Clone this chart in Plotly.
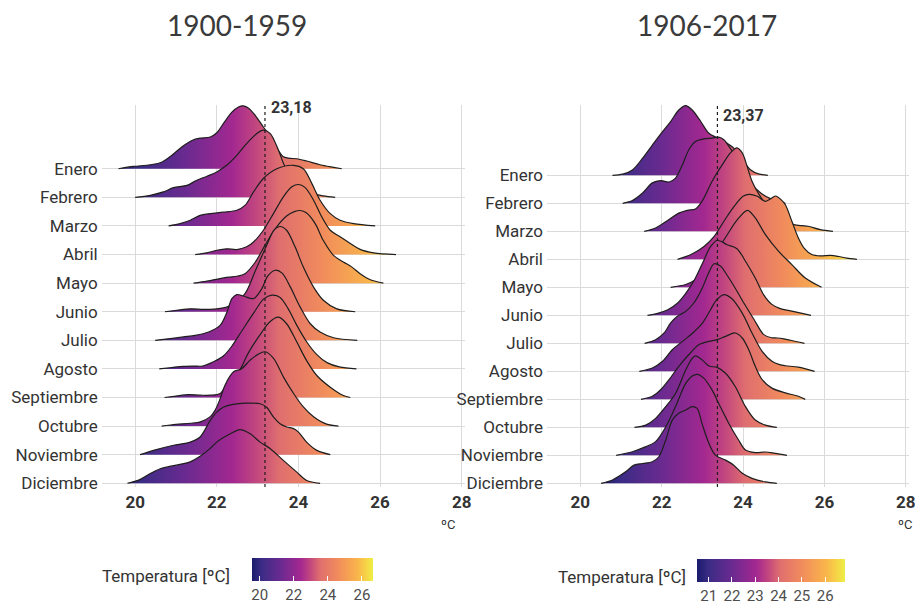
import plotly.graph_objects as go

# ---------------- data ----------------
months = ["Enero", "Febrero", "Marzo", "Abril", "Mayo", "Junio", "Julio",
          "Agosto", "Septiembre", "Octubre", "Noviembre", "Diciembre"]
panel_titles = ["1900-1959", "1906-2017"]
medians = [23.18, 23.37]
median_labels = ["23,18", "23,37"]
x_ticks = [20, 22, 24, 26, 28]
cbar_ranges = [[19.55, 26.65], [20.5, 26.85]]
cbar_ticks = [[20, 22, 24, 26], [21, 22, 23, 24, 25, 26]]

# temperatures (ºC) and ridge heights (in row units), 1900-1959
temp_a = [
    [19.59, 19.96, 20.37, 20.65, 20.9, 21.14, 21.39, 21.59, 21.84, 22.0, 22.16, 22.37, 22.53, 22.65, 22.78, 22.94, 23.14, 23.35, 23.51, 23.62, 23.76, 23.96, 24.2, 24.53, 24.86, 25.06],
    [20.0, 20.37, 20.69, 20.94, 21.27, 21.51, 21.76, 22.0, 22.24, 22.49, 22.73, 22.98, 23.14, 23.31, 23.51, 23.67, 23.88, 24.12, 24.37, 24.61, 24.9],
    [20.82, 21.1, 21.35, 21.59, 21.84, 22.16, 22.49, 22.69, 22.9, 23.14, 23.47, 23.88, 24.12, 24.33, 24.53, 24.78, 25.02, 25.35, 25.88],
    [21.47, 21.76, 22.0, 22.24, 22.49, 22.73, 22.9, 23.14, 23.39, 23.63, 23.84, 24.0, 24.16, 24.37, 24.57, 24.78, 25.02, 25.27, 25.51, 25.84, 26.39],
    [21.43, 21.76, 22.08, 22.29, 22.49, 22.69, 22.94, 23.18, 23.43, 23.71, 23.9, 24.04, 24.2, 24.41, 24.61, 24.86, 25.1, 25.31, 25.51, 25.76, 26.08],
    [20.73, 21.02, 21.35, 21.67, 21.92, 22.24, 22.47, 22.69, 22.95, 23.22, 23.4, 23.55, 23.71, 23.92, 24.12, 24.37, 24.61, 24.94, 25.39],
    [20.49, 20.86, 21.18, 21.47, 21.8, 22.08, 22.25, 22.37, 22.49, 22.65, 22.9, 23.1, 23.25, 23.43, 23.6, 23.8, 24.04, 24.29, 24.53, 24.86, 25.44],
    [20.59, 20.9, 21.18, 21.45, 21.65, 21.92, 22.16, 22.37, 22.6, 22.9, 23.15, 23.35, 23.55, 23.75, 23.95, 24.2, 24.45, 24.7, 25.0, 25.42],
    [20.72, 21.0, 21.3, 21.6, 21.85, 22.08, 22.25, 22.41, 22.57, 22.78, 23.1, 23.3, 23.51, 23.71, 23.96, 24.2, 24.45, 24.78, 25.1, 25.27],
    [20.65, 21.0, 21.35, 21.6, 21.84, 21.96, 22.08, 22.2, 22.41, 22.6, 22.82, 23.0, 23.18, 23.39, 23.63, 23.88, 24.12, 24.37, 24.69, 24.98],
    [20.12, 20.45, 20.94, 21.35, 21.59, 21.84, 22.0, 22.16, 22.4, 22.7, 23.06, 23.22, 23.39, 23.55, 23.71, 23.88, 24.0, 24.2, 24.45, 24.78],
    [19.81, 20.1, 20.37, 20.6, 20.78, 21.1, 21.35, 21.6, 21.84, 22.0, 22.33, 22.57, 22.82, 23.06, 23.31, 23.63, 23.96, 24.2, 24.53],
]
height_a = [
    [0, 0.08, 0.14, 0.23, 0.47, 0.76, 0.99, 1.07, 1.11, 1.26, 1.58, 1.98, 2.16, 2.2, 2.12, 1.87, 1.46, 1.05, 0.64, 0.43, 0.37, 0.35, 0.27, 0.14, 0.05, 0],
    [0, 0.07, 0.19, 0.34, 0.42, 0.6, 0.74, 0.89, 1.12, 1.47, 1.88, 2.23, 2.35, 2.23, 1.65, 1.08, 0.71, 0.36, 0.13, 0.05, 0],
    [0, 0.08, 0.2, 0.37, 0.43, 0.48, 0.55, 0.72, 1.19, 1.66, 2.0, 2.12, 2.0, 1.48, 0.9, 0.43, 0.2, 0.08, 0],
    [0, 0.06, 0.15, 0.2, 0.175, 0.27, 0.44, 0.85, 1.44, 2.02, 2.37, 2.45, 2.35, 1.9, 1.32, 0.85, 0.62, 0.39, 0.18, 0.06, 0],
    [0, 0.07, 0.16, 0.21, 0.24, 0.33, 0.73, 1.32, 1.9, 2.35, 2.5, 2.54, 2.45, 2.08, 1.49, 0.97, 0.74, 0.56, 0.33, 0.12, 0],
    [0, 0.05, 0.1, 0.08, 0.09, 0.16, 0.35, 0.63, 1.45, 2.32, 2.85, 2.98, 2.85, 2.26, 1.56, 0.86, 0.4, 0.1, 0],
    [0, 0.06, 0.12, 0.17, 0.29, 0.52, 0.99, 1.46, 1.6, 1.55, 1.46, 1.8, 2.25, 2.45, 2.35, 1.87, 1.17, 0.58, 0.29, 0.09, 0],
    [0, 0.05, 0.09, 0.1, 0.1, 0.25, 0.45, 0.8, 1.3, 1.95, 2.45, 2.58, 2.5, 2.1, 1.55, 0.95, 0.5, 0.22, 0.07, 0],
    [0, 0.05, 0.1, 0.08, 0.08, 0.14, 0.48, 0.71, 0.98, 1.58, 2.28, 2.65, 2.81, 2.58, 1.94, 1.29, 0.77, 0.36, 0.07, 0],
    [0, 0.06, 0.1, 0.15, 0.33, 0.56, 0.95, 1.43, 1.9, 2.0, 2.31, 2.5, 2.6, 2.37, 1.72, 1.14, 0.67, 0.33, 0.07, 0],
    [0, 0.15, 0.33, 0.44, 0.62, 1.2, 1.49, 1.66, 1.76, 1.8, 1.78, 1.66, 1.31, 1.08, 0.97, 0.91, 0.79, 0.44, 0.15, 0],
    [0, 0.12, 0.34, 0.5, 0.57, 0.66, 0.75, 0.95, 1.22, 1.44, 1.73, 1.88, 1.73, 1.44, 1.21, 0.8, 0.39, 0.1, 0],
]

# 1906-2017
temp_b = [
    [20.79, 21.04, 21.28, 21.53, 21.77, 22.02, 22.22, 22.42, 22.59, 22.75, 22.96, 23.16, 23.35, 23.55, 23.78, 24.02, 24.19, 24.38, 24.61],
    [21.04, 21.28, 21.53, 21.77, 21.98, 22.18, 22.34, 22.51, 22.67, 22.83, 23.04, 23.24, 23.4, 23.53, 23.69, 23.85, 24.0, 24.2, 24.45, 24.7, 25.04],
    [21.57, 21.85, 22.18, 22.42, 22.63, 22.83, 22.99, 23.24, 23.49, 23.69, 23.85, 23.98, 24.1, 24.22, 24.4, 24.6, 24.85, 25.05, 25.25, 25.45, 25.6, 25.9, 26.21],
    [22.39, 22.72, 23.04, 23.29, 23.53, 23.78, 24.0, 24.15, 24.35, 24.55, 24.7, 24.8, 24.92, 25.04, 25.2, 25.36, 25.5, 25.69, 25.9, 26.15, 26.35, 26.55, 26.8],
    [22.22, 22.59, 22.83, 23.04, 23.2, 23.4, 23.6, 23.85, 24.11, 24.3, 24.55, 24.87, 25.2, 25.53, 25.93],
    [21.65, 21.9, 22.15, 22.4, 22.6, 22.8, 23.0, 23.2, 23.37, 23.61, 23.85, 24.06, 24.3, 24.5, 24.7, 24.9, 25.2, 25.45, 25.67],
    [21.58, 21.85, 22.06, 22.22, 22.38, 22.59, 22.79, 22.99, 23.15, 23.29, 23.45, 23.6, 23.78, 24.02, 24.27, 24.51, 24.7, 24.84, 25.0, 25.17, 25.51],
    [21.45, 21.77, 22.02, 22.26, 22.51, 22.75, 22.99, 23.2, 23.35, 23.53, 23.72, 23.98, 24.22, 24.47, 24.71, 24.9, 25.04, 25.36, 25.76],
    [21.49, 21.77, 21.98, 22.18, 22.42, 22.67, 22.91, 23.16, 23.36, 23.57, 23.81, 23.98, 24.14, 24.3, 24.47, 24.71, 25.04, 25.36, 25.53],
    [21.33, 21.61, 21.85, 22.1, 22.34, 22.59, 22.75, 22.83, 23.0, 23.16, 23.36, 23.57, 23.81, 24.06, 24.3, 24.55, 24.83],
    [20.88, 21.28, 21.61, 21.85, 22.1, 22.34, 22.59, 22.75, 22.87, 23.04, 23.24, 23.4, 23.65, 23.89, 24.06, 24.3, 24.55, 24.79, 25.08],
    [20.51, 20.79, 21.12, 21.32, 21.53, 21.77, 21.93, 22.1, 22.26, 22.42, 22.59, 22.75, 22.87, 22.99, 23.16, 23.32, 23.57, 23.77, 23.98, 24.22, 24.55, 24.83],
]
height_b = [
    [0, 0.04, 0.19, 0.61, 1.08, 1.56, 1.92, 2.33, 2.49, 2.33, 1.92, 1.5, 1.35, 1.2, 0.96, 0.49, 0.19, 0.05, 0],
    [0, 0.1, 0.37, 0.73, 0.81, 0.76, 0.9, 1.38, 1.92, 2.21, 2.3, 2.33, 2.36, 2.27, 1.95, 1.6, 1.2, 0.7, 0.35, 0.15, 0],
    [0, 0.12, 0.42, 0.65, 0.75, 0.8, 1.07, 1.79, 2.38, 2.8, 2.98, 2.8, 2.32, 1.79, 1.3, 0.9, 0.55, 0.35, 0.24, 0.2, 0.18, 0.06, 0],
    [0, 0.17, 0.46, 0.82, 1.36, 1.89, 2.25, 2.32, 2.25, 2.07, 2.18, 2.26, 2.15, 1.95, 1.36, 0.76, 0.4, 0.17, 0.12, 0.14, 0.1, 0.04, 0],
    [0, 0.1, 0.27, 0.57, 0.93, 1.4, 1.85, 2.4, 2.75, 2.48, 1.88, 1.29, 0.81, 0.33, 0],
    [0, 0.07, 0.2, 0.45, 0.8, 1.25, 1.85, 2.45, 2.68, 2.52, 2.38, 1.93, 1.33, 0.75, 0.4, 0.25, 0.15, 0.07, 0],
    [0, 0.13, 0.37, 0.73, 0.96, 1.14, 1.44, 1.95, 2.5, 2.84, 2.75, 2.45, 2.04, 1.44, 0.85, 0.31, 0.2, 0.19, 0.16, 0.11, 0],
    [0, 0.12, 0.36, 0.77, 1.07, 1.35, 1.7, 2.2, 2.55, 2.74, 2.6, 2.08, 1.37, 0.71, 0.36, 0.24, 0.2, 0.15, 0],
    [0, 0.11, 0.35, 0.7, 1.18, 1.6, 1.95, 2.07, 2.13, 2.25, 2.37, 2.19, 1.77, 1.18, 0.7, 0.4, 0.23, 0.11, 0],
    [0, 0.08, 0.32, 0.74, 1.21, 2.05, 2.46, 2.55, 2.4, 2.19, 2.14, 1.93, 1.45, 0.74, 0.26, 0.08, 0],
    [0, 0.13, 0.31, 0.49, 1.02, 1.74, 2.57, 2.83, 2.89, 2.75, 2.33, 1.86, 1.14, 0.55, 0.19, 0.1, 0.12, 0.07, 0],
    [0, 0.12, 0.42, 0.65, 0.71, 0.77, 0.95, 1.55, 2.26, 2.5, 2.62, 2.74, 2.68, 2.14, 1.43, 1.01, 0.83, 0.65, 0.36, 0.18, 0.05, 0],
]

temps = [temp_a, temp_b]
heights = [height_a, height_b]

# muted plasma-like palette as seen in the reference colour bars
palette = [[0.0, "#1a1c6c"], [0.08, "#3b2c85"], [0.24, "#6b2a90"], [0.40, "#a32890"],
           [0.48, "#c2467f"], [0.56, "#df6e6f"], [0.71, "#f18c5c"], [0.87, "#f9b44b"],
           [0.94, "#f6d247"], [1.0, "#eeef45"]]

# ---------------- layout constants ----------------
W, H = 915, 605
x_domains = [[101.7 / W, 465 / W], [547 / W, 909 / W]]
y_domain = [1 - 487 / H, 1 - 105 / H]
y_ranges = [[-0.13, 13.23], [-0.13, 13.51]]
x_range = [19.18, 28.08]
n = len(months)

fig = go.Figure()

for p in range(2):
    xa = "x" if p == 0 else "x2"
    ya = "y" if p == 0 else "y2"
    cmin, cmax = cbar_ranges[p]
    for i, m in enumerate(months):
        base = n - 1 - i
        xs = temps[p][i]
        ys = [base + h for h in heights[p][i]]
        fig.add_trace(go.Scatter(
            x=xs, y=ys, mode="lines", fill="toself",
            fillgradient=dict(type="horizontal", colorscale=palette,
                              start=cmin, stop=cmax),
            line=dict(color="#1e1e1e", width=1.2, shape="spline", smoothing=0.9),
            hoverinfo="skip", showlegend=False, xaxis=xa, yaxis=ya,
        ))
    # colour bar
    cb_x = [252, 697][p]
    cb_len = [121, 148][p]
    cb_y = [558, 559][p]
    fig.add_trace(go.Scatter(
        x=[None], y=[None], mode="markers", xaxis=xa, yaxis=ya,
        showlegend=False, hoverinfo="skip",
        marker=dict(color=[cmin, cmax], cmin=cmin, cmax=cmax,
                    colorscale=palette, showscale=True,
                    colorbar=dict(orientation="h", thickness=23, lenmode="pixels", len=cb_len,
                                  x=cb_x / W, xanchor="left", y=1 - cb_y / H, yanchor="top",
                                  outlinewidth=0, xpad=0, ypad=0, tickvals=cbar_ticks[p],
                                  ticks="inside", ticklen=5, tickcolor="white", tickwidth=1.2,
                                  tickfont=dict(family="Roboto", size=15, color="#4d4d4d"))),
    ))
    # median line
    fig.add_shape(type="line", xref=xa, yref="paper", x0=medians[p], x1=medians[p],
                  y0=y_domain[0], y1=y_domain[1] + 0.002,
                  line=dict(color="#1e1e1e", width=1.2, dash="3px,3px"), layer="above")
    fig.add_annotation(xref=xa, yref="paper", x=medians[p], xanchor="left", xshift=4,
                       y=1 - [108, 116][p] / H, yanchor="middle", showarrow=False,
                       text="<b>" + median_labels[p] + "</b>",
                       font=dict(family="Roboto", size=16, color="#333333"))
    # titles
    fig.add_annotation(xref="paper", yref="paper", x=[237, 707][p] / W, y=1 - 25 / H,
                       xanchor="center", yanchor="middle", showarrow=False,
                       text=panel_titles[p],
                       font=dict(family="Lato", size=28, color="#3a3a3a"))
    # unit label
    fig.add_annotation(xref="paper", yref="paper", x=[448, 905][p] / W, y=1 - 524 / H,
                       xanchor="center", yanchor="middle", showarrow=False,
                       text="ºC", font=dict(family="Roboto", size=13, color="#333333"))
    # colour bar title
    fig.add_annotation(xref="paper", yref="paper", x=[232, 688][p] / W, y=1 - [576, 577][p] / H,
                       xanchor="right", yanchor="middle", showarrow=False,
                       text="Temperatura [ºC]",
                       font=dict(family="Roboto", size=17, color="#333333"))

axis_common = dict(showgrid=True, gridcolor="#dadada", gridwidth=1.3,
                   zeroline=False, showline=False, ticks="")
for p in range(2):
    xkey = "xaxis" if p == 0 else "xaxis2"
    ykey = "yaxis" if p == 0 else "yaxis2"
    fig.update_layout(**{
        xkey: dict(domain=x_domains[p], range=x_range, tickvals=x_ticks,
                   ticktext=["<b>%d</b>" % t for t in x_ticks],
                   tickfont=dict(family="Roboto", size=17, color="#333333"),
                   ticklabelstandoff=3, ticklabeloverflow="allow", automargin=False,
                   anchor="y" if p == 0 else "y2", **axis_common),
        ykey: dict(domain=y_domain, range=y_ranges[p],
                   tickvals=list(range(n)), ticktext=months[::-1],
                   tickfont=dict(family="Roboto", size=17, color="#333333"),
                   ticklabelstandoff=3, ticklabeloverflow="allow",
                   anchor="x" if p == 0 else "x2", automargin=False, **axis_common),
    })

fig.update_layout(width=W, height=H,
                  margin=dict(l=0, r=0, t=0, b=0, autoexpand=False),
                  plot_bgcolor="white", paper_bgcolor="white", showlegend=False)

fig.write_html("out.html")
